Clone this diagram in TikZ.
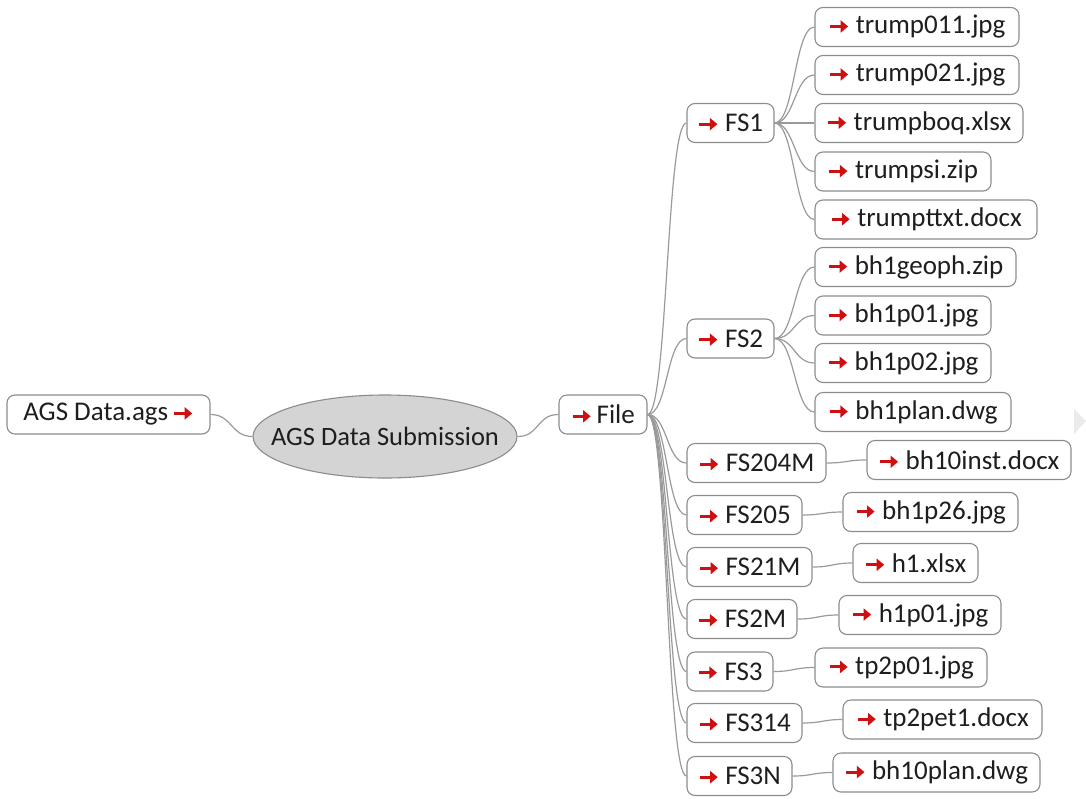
\documentclass[tikz,border=0pt]{standalone}
\usepackage{fontspec}
\setmainfont{Carlito}
\usetikzlibrary{shapes.geometric,arrows.meta}
\definecolor{linkgray}{HTML}{9A9A9A}
\definecolor{boxgray}{HTML}{8C8C8C}
\definecolor{arrowred}{HTML}{D01010}
\definecolor{textdark}{HTML}{1E1E1E}
\definecolor{ovalfill}{HTML}{D4D4D4}
% small heavy red arrow used inside the labels
\newcommand\rarr{\tikz[baseline=-7.5pt]{\draw[arrowred, line width=3pt,
  -{Triangle[length=7.5pt,width=12pt]}] (0pt,0pt) -- (18pt,0pt);}}
\tikzset{
  filebox/.style={draw=boxgray, line width=1.1pt, rounded corners=8pt, fill=white,
    minimum height=39pt, inner sep=0pt, text=textdark,
    font=\fontsize{27}{30}\selectfont},
  oval/.style={draw=boxgray, line width=1.1pt, ellipse, fill=ovalfill,
    minimum width=264pt, minimum height=83pt, inner sep=0pt, text=textdark,
    font=\fontsize{26.5}{30}\selectfont},
  link/.style={draw=linkgray, line width=1.2pt},
}
\newcommand\branch[3]{\draw[link] (#1.east) .. controls +(#3,0) and +(-#3,0) .. (#2.west);}
\begin{document}
\begin{tikzpicture}[x=1pt,y=-1pt]
\useasboundingbox (0,0) rectangle (1086,798);

% root and its source file
\node[filebox, minimum width=203pt] (ags) at (108.5,414.5) {AGS Data.ags\,\rarr};
\node[oval] (sub) at (385,436.5) {\makebox[0pt]{AGS Data Submission}};
\node[filebox, minimum width=88pt] (file) at (603,414.5) {\rarr\,File};

% folders
\node[filebox, minimum width=87pt]  (fs1)    at (730.5,123)   {\rarr\ FS1};
\node[filebox, minimum width=87pt]  (fs2)    at (730.5,338.5) {\rarr\ FS2};
\node[filebox, minimum width=139pt] (fs204m) at (756.5,463)   {\rarr\ FS204M};
\node[filebox, minimum width=115pt] (fs205)  at (744.5,515)   {\rarr\ FS205};
\node[filebox, minimum width=125pt] (fs21m)  at (749.5,567)   {\rarr\ FS21M};
\node[filebox, minimum width=110pt] (fs2m)   at (742,619)     {\rarr\ FS2M};
\node[filebox, minimum width=86pt]  (fs3)    at (730,671.5)   {\rarr\ FS3};
\node[filebox, minimum width=115pt] (fs314)  at (744.5,723)   {\rarr\ FS314};
\node[filebox, minimum width=105pt] (fs3n)   at (739.5,776)   {\rarr\ FS3N};

% files in FS1
\node[filebox, minimum width=204pt] (t1) at (917,27)    {\rarr\ trump011.jpg};
\node[filebox, minimum width=204pt] (t2) at (917,75)    {\rarr\ trump021.jpg};
\node[filebox, minimum width=208pt] (t3) at (919,123)   {\rarr\ trumpboq.xlsx};
\node[filebox, minimum width=176pt] (t4) at (903,171.5) {\rarr\ trumpsi.zip};
\node[filebox, minimum width=222pt] (t5) at (926,219.5) {\rarr\ trumpttxt.docx};

% files in FS2
\node[filebox, minimum width=201pt] (b1) at (915.5,267) {\rarr\ bh1geoph.zip};
\node[filebox, minimum width=176pt] (b2) at (903,315.5) {\rarr\ bh1p01.jpg};
\node[filebox, minimum width=176pt] (b3) at (903,363)   {\rarr\ bh1p02.jpg};
\node[filebox, minimum width=196pt] (b4) at (913,412)   {\rarr\ bh1plan.dwg};

% single files
\node[filebox, minimum width=204pt] (c1) at (969,460)    {\rarr\ bh10inst.docx};
\node[filebox, minimum width=175pt] (c2) at (930.5,512)  {\rarr\ bh1p26.jpg};
\node[filebox, minimum width=125pt] (c3) at (915.5,563)  {\rarr\ h1.xlsx};
\node[filebox, minimum width=162pt] (c4) at (920,615)    {\rarr\ h1p01.jpg};
\node[filebox, minimum width=172pt] (c5) at (901,667.5)  {\rarr\ tp2p01.jpg};
\node[filebox, minimum width=199pt] (c6) at (942.5,719.5){\rarr\ tp2pet1.docx};
\node[filebox, minimum width=207pt] (c7) at (936.5,772.5){\rarr\ bh10plan.dwg};

% connectors
\branch{ags}{sub}{22}
\branch{sub}{file}{22}
\foreach \f in {fs1,fs2,fs204m,fs205,fs21m,fs2m,fs3,fs314,fs3n}{\branch{file}{\f}{20}}
\foreach \f in {t1,t2,t3,t4,t5}{\branch{fs1}{\f}{20}}
\foreach \f in {b1,b2,b3,b4}{\branch{fs2}{\f}{20}}
\branch{fs204m}{c1}{20}
\branch{fs205}{c2}{20}
\branch{fs21m}{c3}{20}
\branch{fs2m}{c4}{20}
\branch{fs3}{c5}{20}
\branch{fs314}{c6}{20}
\branch{fs3n}{c7}{20}

% faint scroll marker at the right edge
\fill[black!8] (1074,409) -- (1086,421) -- (1074,434) -- cycle;
\end{tikzpicture}
\end{document}
